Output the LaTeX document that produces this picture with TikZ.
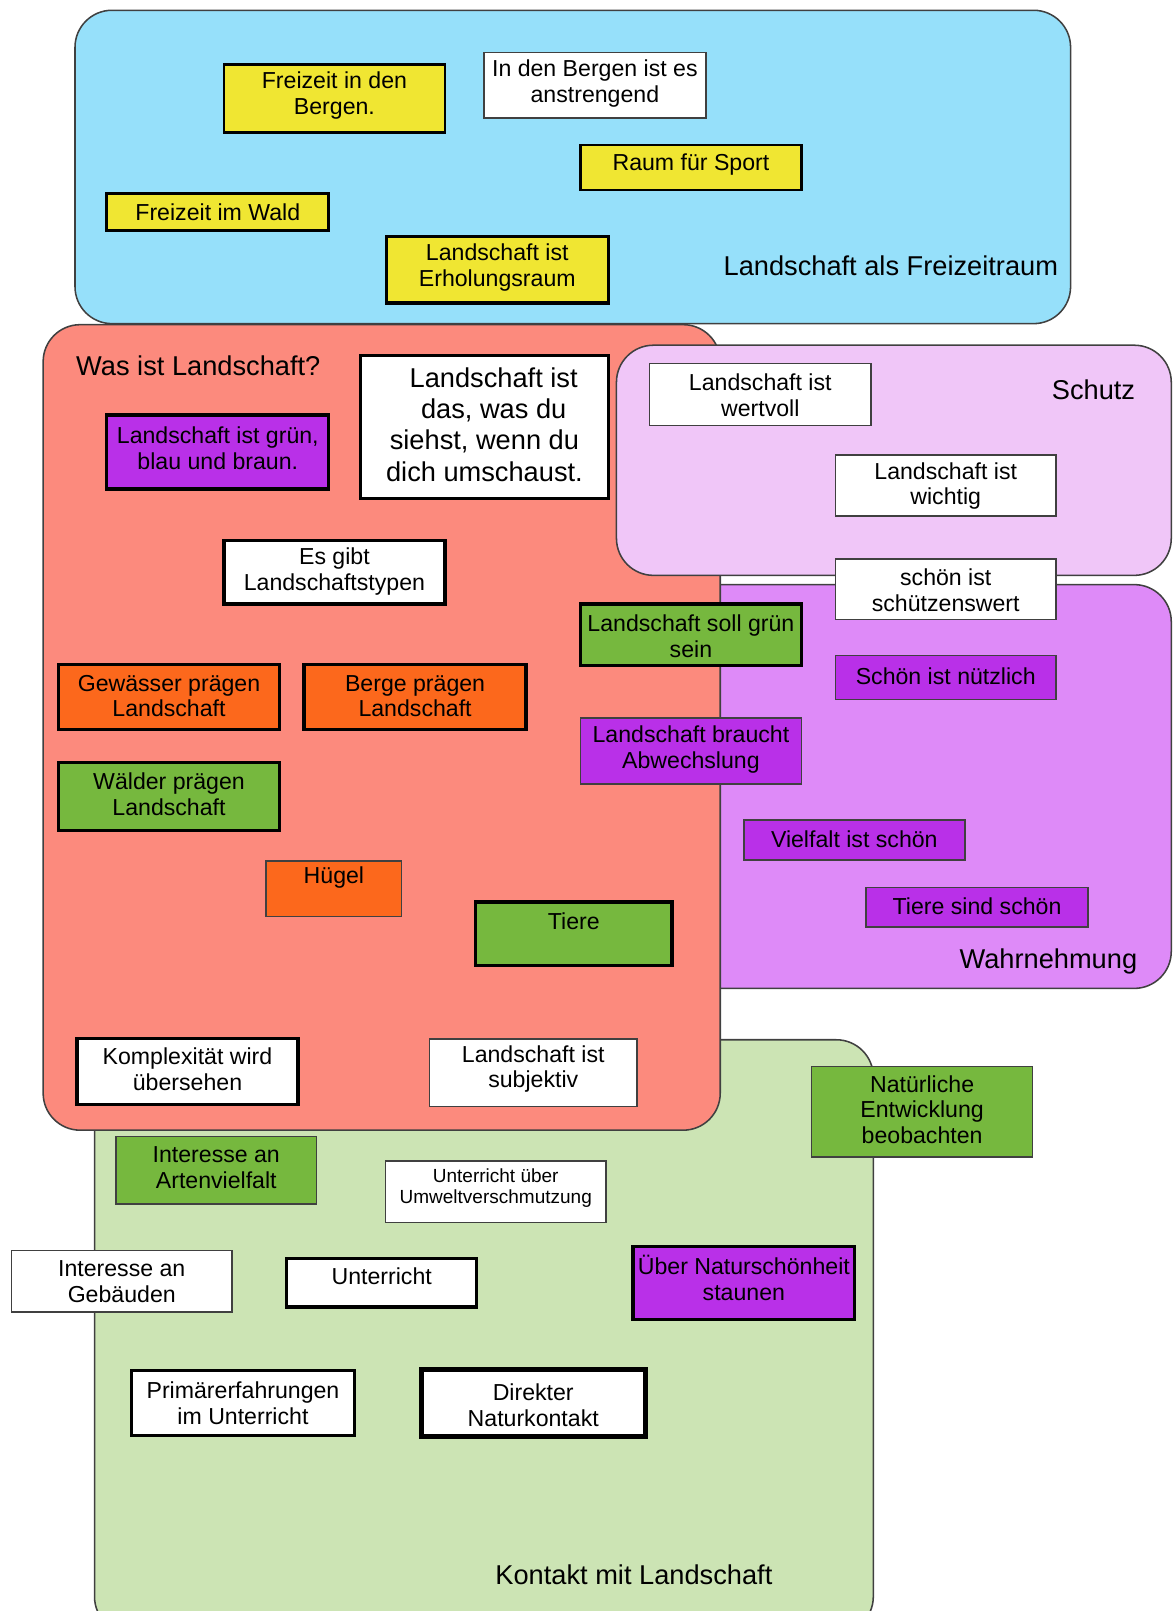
\documentclass[tikz,border=0pt]{standalone}
\usepackage{fontspec}
\setmainfont{Liberation Sans}
\definecolor{regblue}{RGB}{150,224,250}
\definecolor{regred}{RGB}{252,138,125}
\definecolor{regpink}{RGB}{240,198,248}
\definecolor{regviolet}{RGB}{222,138,248}
\definecolor{reggreen}{RGB}{204,228,180}
\definecolor{ndyellow}{RGB}{240,230,50}
\definecolor{ndpurple}{RGB}{185,48,232}
\definecolor{ndorange}{RGB}{252,104,28}
\definecolor{ndgreen}{RGB}{118,184,62}
\tikzset{
  region/.style={draw=black!75, line width=1.5pt, rounded corners=36pt},
  box/.style={rectangle, inner sep=0pt, draw=black},
  thinb/.style={draw=black!75, line width=1.5pt},
  medb/.style={draw=black, line width=2.5pt},
  thickb/.style={draw=black, line width=3.2pt},
  heavyb/.style={draw=black, line width=4.5pt},
  lbl/.style={align=center, font=\fontsize{22.5}{25}\selectfont, inner sep=0pt},
  biglbl/.style={align=center, font=\fontsize{26.5}{30.5}\selectfont, inner sep=0pt},
  smalllbl/.style={align=center, font=\fontsize{18.5}{21}\selectfont, inner sep=0pt},
  title/.style={font=\fontsize{26.5}{30}\selectfont, inner sep=0pt},
}
% \bx{name}{x1}{y1}{x2}{y2}{style}{label style}{raise}{text}
\newcommand\bx[9]{\node[box,#6,minimum width={(#4-#2)*1pt},minimum height={(#5-#3)*1pt},
  label={[#7,yshift=#8pt-2pt]center:{#9}}] (#1) at ({(#2+#4)/2},{(#3+#5)/2}) {};}
\begin{document}
\begin{tikzpicture}[x=1pt,y=-1pt]
\useasboundingbox (0,0) rectangle (1141,1568);
\clip (0,0) rectangle (1141,1568);
% regions
\draw[region, fill=regblue] (73,10) rectangle (1042,315);
\draw[region, fill=reggreen] (92,1012) rectangle (850,1590);
\draw[region, fill=regviolet] (640,569) rectangle (1140,962);
\draw[region, fill=regred] (42,316) rectangle (701,1100);
\draw[region, fill=regpink] (600,336) rectangle (1140,560);
% titles
\node[title, anchor=east] (tfrei) at (1030,259) {Landschaft als Freizeitraum};
\node[title, anchor=west] (twas) at (74,356) {Was ist Landschaft?};
\node[title, anchor=east] (tschutz) at (1105,379) {Schutz};
\node[title, anchor=east] (twahr) at (1107,936) {Wahrnehmung};
\node[title, anchor=west] (tkontakt) at (482,1533) {Kontakt mit Landschaft};
% Freizeitraum
\bx{fb}{218}{63}{433}{129}{medb,fill=ndyellow}{lbl}{5}{Freizeit in den\\Bergen.}
\bx{ib}{471}{51}{687}{115}{thinb,fill=white}{lbl}{4}{In den Bergen ist es\\anstrengend}
\bx{rs}{565}{141}{780}{185}{medb,fill=ndyellow}{lbl}{5}{Raum für Sport}
\bx{fw}{104}{188}{320}{224}{thickb,fill=ndyellow}{lbl}{1}{Freizeit im Wald}
\bx{le}{376}{230}{592}{295}{thickb,fill=ndyellow}{lbl}{4}{Landschaft ist\\Erholungsraum}
% Was ist Landschaft
\bx{ld}{351}{346}{592}{485}{thickb,fill=white}{biglbl}{4.5}{\hspace*{18pt}Landschaft ist\\\hspace*{18pt}das, was du\\siehst, wenn du\\dich umschaust.}
\bx{lg}{104}{404}{320}{476}{thickb,fill=ndpurple}{lbl}{6}{Landschaft ist grün,\\blau und braun.}
\bx{eg}{218}{526}{433}{588}{thickb,fill=white}{lbl}{3}{Es gibt\\Landschaftstypen}
\bx{gw}{57}{647}{272}{710}{thickb,fill=ndorange}{lbl}{3}{Gewässer prägen\\Landschaft}
\bx{bp}{296}{647}{512}{710}{thickb,fill=ndorange}{lbl}{3}{Berge prägen\\Landschaft}
\bx{wp}{57}{742}{272}{808}{thickb,fill=ndgreen}{lbl}{4}{Wälder prägen\\Landschaft}
\bx{hu}{259}{838}{391}{892}{thinb,fill=ndorange}{lbl}{13}{Hügel}
\bx{ti}{463}{878}{654}{940}{thickb,fill=ndgreen}{lbl}{14}{Tiere}
\bx{ko}{75}{1011}{290}{1075}{thickb,fill=white}{lbl}{4.5}{Komplexität wird\\übersehen}
\bx{su}{418}{1011}{620}{1077}{thinb,fill=white}{lbl}{5.5}{Landschaft ist\\subjektiv}
\bx{sg}{565}{588}{780}{648}{thickb,fill=ndgreen}{lbl}{1}{Landschaft soll grün\\sein}
\bx{ab}{565}{699}{780}{763}{thinb,fill=ndpurple}{lbl}{3.5}{Landschaft braucht\\Abwechslung}
% Schutz
\bx{wv}{632}{354}{848}{414}{thinb,fill=white}{lbl}{1}{Landschaft ist\\wertvoll}
\bx{wi}{813}{443}{1028}{502}{thinb,fill=white}{lbl}{1.5}{Landschaft ist\\wichtig}
\bx{ss}{813}{544}{1028}{603}{thinb,fill=white}{lbl}{1}{schön ist\\schützenswert}
% Wahrnehmung
\bx{sn}{813}{638}{1028}{681}{thinb,fill=ndpurple}{lbl}{3}{Schön ist nützlich}
\bx{vs}{724}{798}{939}{837}{thinb,fill=ndpurple}{lbl}{3}{Vielfalt ist schön}
\bx{ts}{843}{864}{1059}{902}{thinb,fill=ndpurple}{lbl}{3}{Tiere sind schön}
% Kontakt
\bx{ne}{790}{1038}{1005}{1126}{thinb,fill=ndgreen}{lbl}{4}{Natürliche\\Entwicklung\\beobachten}
\bx{ia}{113}{1106}{308}{1172}{thinb,fill=ndgreen}{lbl}{4.5}{Interesse an\\Artenvielfalt}
\bx{uu}{375}{1130}{590}{1190}{thinb,fill=white}{smalllbl}{5.5}{Unterricht über\\Umweltverschmutzung}
\bx{ig}{11}{1217}{226}{1277}{thinb,fill=white}{lbl}{1.5}{Interesse an\\Gebäuden}
\bx{un}{279}{1225}{464}{1272}{thickb,fill=white}{lbl}{8}{Unterricht}
\bx{ns}{616}{1213}{832}{1284}{thickb,fill=ndpurple}{lbl}{7}{Über Naturschönheit\\staunen}
\bx{pe}{128}{1334}{345}{1397}{thickb,fill=white}{lbl}{1.5}{Primärerfahrungen\\im Unterricht}
\bx{dn}{410}{1333}{628}{1398}{heavyb,fill=white}{lbl}{0}{Direkter\\Naturkontakt}
\end{tikzpicture}
\end{document}
